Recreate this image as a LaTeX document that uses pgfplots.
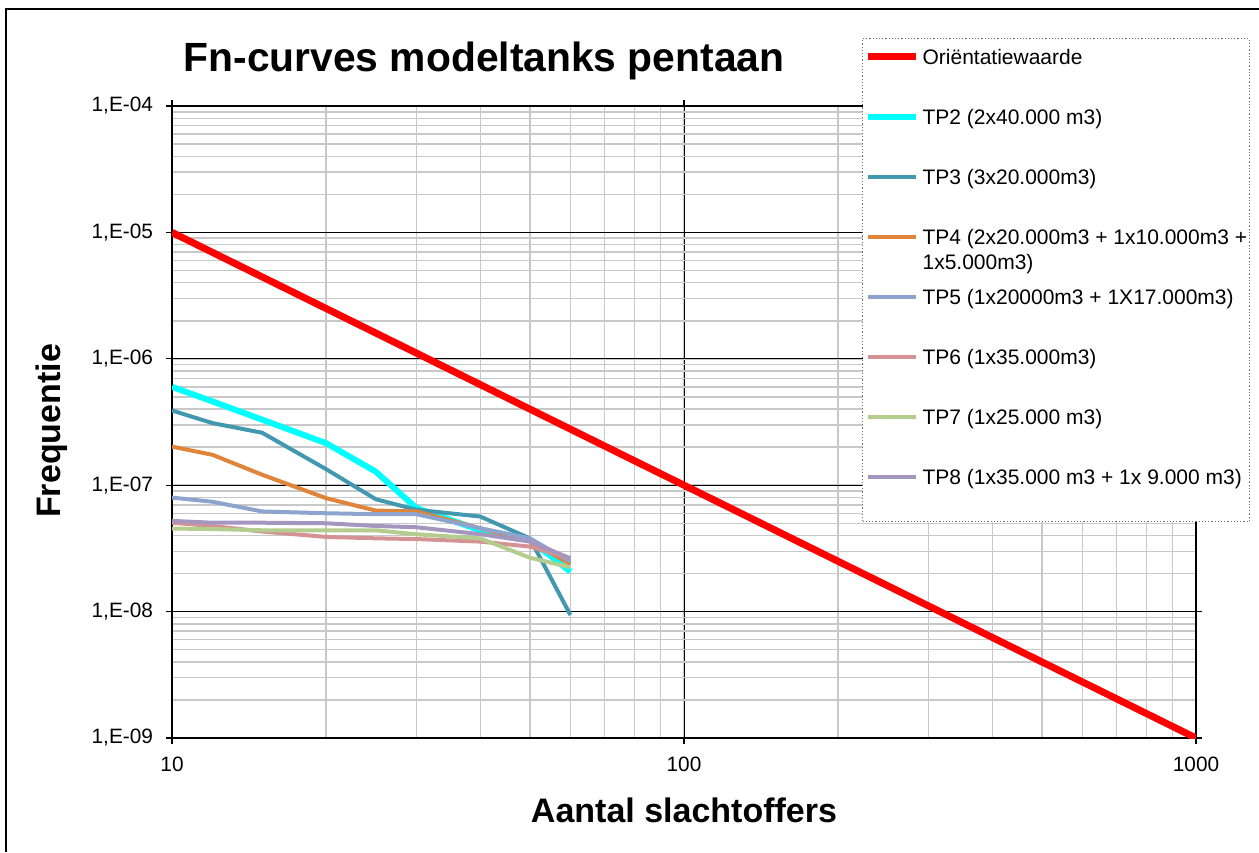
\documentclass[border=0pt]{standalone}
\usepackage{fontspec}
\setmainfont{Liberation Sans}
\usepackage{pgfplots}
\pgfplotsset{compat=1.18}
\definecolor{cTPtwo}{RGB}{0,255,255}
\definecolor{cTPthree}{RGB}{65,152,175}
\definecolor{cTPfour}{RGB}{224,132,58}
\definecolor{cTPfive}{RGB}{141,165,206}
\definecolor{cTPsix}{RGB}{212,146,148}
\definecolor{cTPseven}{RGB}{180,204,142}
\definecolor{cTPeight}{RGB}{165,150,192}
\definecolor{mingrid}{RGB}{200,200,200}
\begin{document}
\begin{tikzpicture}
\useasboundingbox (0,0) rectangle (629.5pt,426pt);
\draw[black, line width=0.8pt] (3pt,0) -- (3pt,421.5pt) -- (629.5pt,421.5pt);
\begin{axis}[
  at={(86pt,57pt)}, anchor=south west,
  scale only axis=true, width=512pt, height=316pt,
  xmode=log, ymode=log,
  xmin=10, xmax=1000, ymin=1e-9, ymax=1e-4,
  xtick={10,100,1000},
  xticklabels={\mbox{10},\mbox{100},\mbox{1000}},
  ytick={1e-9,1e-8,1e-7,1e-6,1e-5,1e-4},
  yticklabels={\mbox{1,E-09},\mbox{1,E-08},\mbox{1,E-07},\mbox{1,E-06},\mbox{1,E-05},\mbox{1,E-04}},
  ticklabel style={font=\fontsize{10.4}{12}\selectfont},
  yticklabel style={xshift=-3pt},
  xticklabel style={yshift=-3pt},
  tick align=outside, major tick length=3pt, minor tick length=0pt,
  tick style={black, line width=0.6pt},
  axis line style={black, line width=0.7pt},
  grid=both,
  major grid style={black, line width=0.5pt},
  minor grid style={mingrid, line width=0.75pt},
  xlabel={Aantal slachtoffers},
  ylabel={Frequentie},
  xlabel style={font=\fontsize{17}{20}\selectfont\bfseries, at={(axis description cs:0.5,-0.1329)}, anchor=base},
  ylabel style={font=\fontsize{17}{20}\selectfont\bfseries, at={(axis description cs:-0.1088,0.4858)}, anchor=base, rotate=0},
  legend style={at={(axis description cs:0.6738,1.1076)}, anchor=north west,
    fill=white, draw={rgb,255:red,110;green,110;blue,110}, densely dotted, line width=0.6pt,
    inner xsep=1pt, inner ysep=3.75pt, row sep=6pt, column sep=1.5pt,
    nodes={anchor=base west, inner sep=0pt, text height=9pt, text depth=15pt,
      font=\fontsize{10.5}{12.5}\selectfont}},
  legend image code/.code={\draw[#1,solid,line cap=butt] (0pt,3.7pt) -- (24pt,3.7pt);},
  every axis plot/.append style={line join=round},
]
\addplot[red, line width=3.5pt] coordinates {(10,1e-5) (1000,1e-9)};
\addlegendentry{Oriëntatiewaarde}
\addplot[cTPtwo, line width=3pt] coordinates {(10,6.0e-7)(12,4.6e-7)(15,3.3e-7)(20,2.15e-7)(25,1.28e-7)(30,6.6e-8)(40,4.4e-8)(50,3.7e-8)(60,2.07e-8)};
\addlegendentry{TP2 (2x40.000 m3)}
\addplot[cTPthree, line width=2pt] coordinates {(10,3.9e-7)(12,3.1e-7)(15,2.6e-7)(20,1.34e-7)(25,7.75e-8)(30,6.4e-8)(40,5.65e-8)(50,3.8e-8)(60,9.4e-9)};
\addlegendentry{TP3 (3x20.000m3)}
\addplot[cTPfour, line width=2pt] coordinates {(10,2.02e-7)(12,1.74e-7)(15,1.21e-7)(20,7.9e-8)(25,6.3e-8)(30,6.2e-8)(40,4.57e-8)(50,3.58e-8)(60,2.38e-8)};
\addlegendentry{\rlap{\raisebox{-12.5pt}{1x5.000m3)}}TP4 (2x20.000m3 + 1x10.000m3 +}
\addplot[cTPfive, line width=2pt] coordinates {(10,7.98e-8)(12,7.4e-8)(15,6.2e-8)(20,6.0e-8)(25,5.9e-8)(30,5.9e-8)(40,4.57e-8)(50,3.8e-8)(60,2.49e-8)};
\addlegendentry{TP5 (1x20000m3 + 1X17.000m3)}
\addplot[cTPsix, line width=2pt] coordinates {(10,5.05e-8)(12,4.76e-8)(15,4.3e-8)(20,3.9e-8)(25,3.8e-8)(30,3.75e-8)(40,3.58e-8)(50,3.27e-8)(60,2.64e-8)};
\addlegendentry{TP6 (1x35.000m3)}
\addplot[cTPseven, line width=2pt] coordinates {(10,4.54e-8)(12,4.5e-8)(15,4.4e-8)(20,4.4e-8)(25,4.4e-8)(30,4.09e-8)(40,3.8e-8)(50,2.67e-8)(60,2.24e-8)};
\addlegendentry{TP7 (1x25.000 m3)}
\addplot[cTPeight, line width=2pt] coordinates {(10,5.22e-8)(12,5.05e-8)(15,5.05e-8)(20,5.0e-8)(25,4.76e-8)(30,4.65e-8)(40,4.1e-8)(50,3.58e-8)(60,2.64e-8)};
\addlegendentry{TP8 (1x35.000 m3 + 1x 9.000 m3)}
\end{axis}
\node[anchor=base, font=\fontsize{20.4}{24}\selectfont\bfseries] at (242pt,390pt) {Fn-curves modeltanks pentaan};
\end{tikzpicture}
\end{document}
